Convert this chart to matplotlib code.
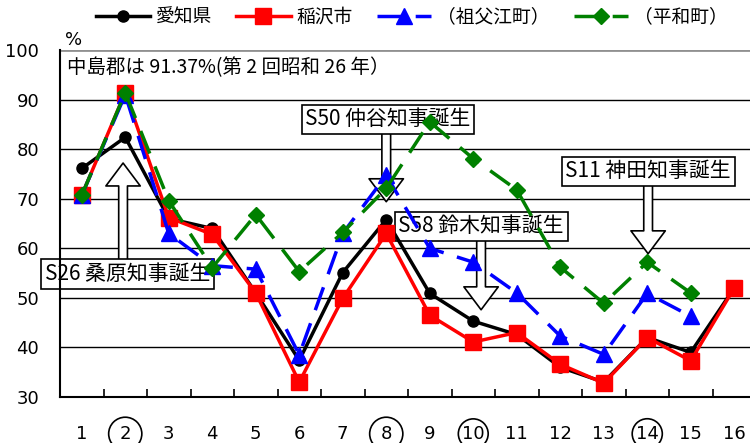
import matplotlib
matplotlib.use("Agg")
import matplotlib.pyplot as plt

plt.rcParams['font.family'] = ['Noto Sans CJK JP', 'DejaVu Sans']

x_labels = ["1", "2", "3", "4", "5", "6", "7", "8", "9", "10", "11", "12", "13", "14", "15", "16"]
circled = ["2", "8", "10", "14"]

aichi = [76.1, 82.4, 66.0, 64.0, 51.0, 37.4, 55.1, 65.8, 50.9, 45.3, 42.6, 36.0, 33.0, 42.0, 39.0, 52.0]
inazawa = [70.7, 91.4, 66.2, 62.8, 51.0, 33.0, 49.9, 63.0, 46.5, 41.1, 43.0, 36.6, 32.8, 42.0, 37.3, 52.0]
sobue = [70.7, 91.0, 63.0, 56.5, 55.8, 38.5, 63.0, 74.7, 60.0, 57.2, 51.0, 42.3, 38.6, 50.9, 46.3]
heiwa = [70.7, 91.4, 69.6, 56.1, 66.8, 55.3, 63.2, 72.1, 85.5, 78.1, 71.8, 56.2, 48.9, 57.2, 51.0]

series_names = ["愛知県", "稲沢市", "（祖父江町）", "（平和町）"]

fig = plt.figure(figsize=(7.5, 4.43), dpi=100)
ax = fig.add_axes([0.08, 0.1038, 0.928, 0.7833])
ax.set_xlim(0.5, 16.5)
ax.set_ylim(30, 100)

xs = list(range(1, 17))

for v in [40, 50, 60, 70, 80, 90]:
    ax.axhline(v, color='black', lw=1.0, zorder=1)
ax.axhline(100, color='#909090', lw=2.0, zorder=1)

ax.plot(xs[:len(aichi)], aichi, color='black', lw=2.5, marker='o', ms=8, zorder=4, label=series_names[0])
ax.plot(xs[:len(inazawa)], inazawa, color='red', lw=2.5, marker='s', ms=12, zorder=5, label=series_names[1])
ax.plot(xs[:len(sobue)], sobue, color='blue', lw=2.5, marker='^', ms=11, zorder=6,
        dashes=(7, 4), label=series_names[2])
ax.plot(xs[:len(heiwa)], heiwa, color='green', lw=2.5, marker='D', ms=8, zorder=7,
        dashes=(7, 4), label=series_names[3])

for s in ['top', 'right']:
    ax.spines[s].set_visible(False)
ax.spines['left'].set_linewidth(1.5)
ax.spines['bottom'].set_linewidth(1.5)

num_font = dict(family='DejaVu Sans', size=13)

ax.set_yticks([30, 40, 50, 60, 70, 80, 90, 100])
ax.set_yticklabels(["30", "40", "50", "60", "70", "80", "90", "100"], fontdict=num_font)
ax.tick_params(axis='y', length=0, pad=15)

ax.set_xticks([i + 0.5 for i in range(0, 16)], minor=True)
ax.tick_params(axis='x', which='minor', direction='in', length=6, width=1.2)
ax.set_xticks(xs)
ax.set_xticklabels(x_labels, fontdict=num_font)
ax.tick_params(axis='x', which='major', length=0, pad=20)
for lab in ax.get_xticklabels():
    t = lab.get_text()
    if t in circled:
        p = 0.42 if len(t) == 1 else 0.2
        lab.set_bbox(dict(boxstyle='circle,pad=%s' % p, fc='none', ec='black', lw=1.2))

fig.text(65/750, 1 - 40/443, "%", fontsize=13, ha='left', va='center', family='DejaVu Sans')
ax.text(1 - 0.35, 96.4, "中島郡は 91.37%(第 2 回昭和 26 年）", fontsize=14, ha='left', va='center', zorder=2)

box = dict(boxstyle='square,pad=0.18', fc='white', ec='black', lw=1.2)
arrow = dict(arrowstyle='simple,head_length=1.1,head_width=1.65,tail_width=0.42',
             fc='white', ec='black', lw=1.2, shrinkA=0, shrinkB=0, mutation_scale=15)

callouts = [
    ("S26 桑原知事誕生", 2.05, 54.8, 1.95, 57.6, 1.95, 77.2),
    ("S50 仲谷知事誕生", 8.04, 86.0, 8.0, 83.3, 8.0, 69.4),
    ("S58 鈴木知事誕生", 10.18, 64.4, 10.18, 61.7, 10.18, 47.6),
    ("S11 神田知事誕生", 14.02, 75.5, 14.02, 72.8, 14.02, 58.9),
]
for txt, tx, ty, ax0, ay0, ax1, ay1 in callouts:
    ax.annotate("", xy=(ax1, ay1), xytext=(ax0, ay0), arrowprops=arrow, zorder=2)
    ax.text(tx, ty, txt, fontsize=15, ha='center', va='center', bbox=box, zorder=2.5)

leg = ax.legend(loc='center', bbox_to_anchor=(0.505, 1.095), ncol=4, frameon=False,
                fontsize=13.5, handlelength=2.9, columnspacing=1.3, handletextpad=0.3)

fig.savefig("out.png", dpi=100)
